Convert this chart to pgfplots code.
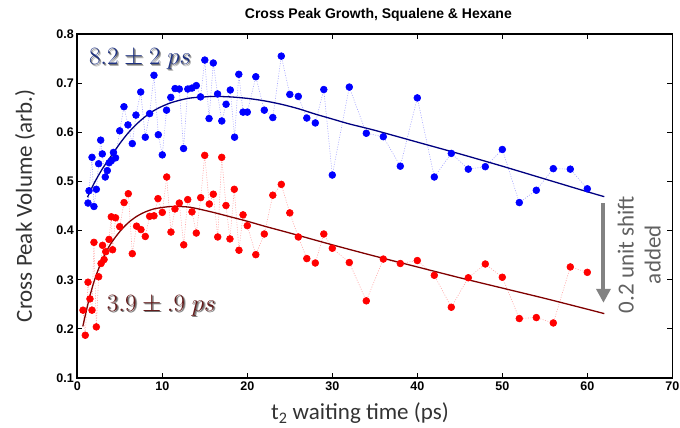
\documentclass[border=0pt]{standalone}
\usepackage[no-math]{fontspec}
\usepackage{pgfplots}
\pgfplotsset{compat=1.18}
\usetikzlibrary{arrows.meta}
\newfontfamily\helv{Liberation Sans}
\newfontfamily\gill{Carlito}
\definecolor{navyfit}{rgb}{0,0,0.5}
\definecolor{redfit}{rgb}{0.5,0,0}
\definecolor{bluelab}{RGB}{30,50,130}
\definecolor{redlab}{RGB}{100,28,28}
\definecolor{bluedot}{rgb}{0.65,0.65,1}
\definecolor{reddot}{rgb}{1,0.65,0.65}
\definecolor{arrowgray}{RGB}{130,130,130}
\newcommand{\shadowed}[1]{\makebox[0pt][l]{\hspace{1.8pt}\raisebox{-1.8pt}{\color{black!30}#1}}\makebox[0pt][l]{\hspace{1pt}\raisebox{-1pt}{\color{black!55}#1}}#1}

\pgfplotstableread{
x y
1.26 0.456
1.38 0.481
1.73 0.549
1.96 0.449
2.24 0.484
2.51 0.536
2.75 0.584
2.94 0.556
3.29 0.509
3.53 0.522
3.75 0.538
4.0 0.542
4.25 0.559
4.5 0.548
4.99 0.603
5.49 0.652
5.96 0.615
6.47 0.577
6.9 0.635
7.46 0.682
8.0 0.590
8.51 0.638
9.02 0.716
9.53 0.595
10.0 0.554
10.5 0.645
11.0 0.671
11.5 0.689
12.0 0.688
12.5 0.567
13.0 0.688
13.5 0.690
14.0 0.695
14.5 0.672
15.0 0.747
15.5 0.628
16.0 0.741
16.5 0.678
17.0 0.623
17.5 0.657
18.0 0.686
18.5 0.590
19.0 0.718
19.5 0.641
20.0 0.641
21 0.713
22 0.645
23 0.630
24 0.755
25 0.677
26 0.673
27 0.629
28 0.619
29 0.687
30 0.513
32 0.692
34 0.598
36 0.591
38 0.531
40 0.670
42 0.509
44 0.557
46 0.525
48 0.530
50 0.565
52 0.457
54 0.482
56 0.526
58 0.525
60 0.485
}\bluedata

\pgfplotstableread{
x y
0.67 0.238
0.94 0.187
1.26 0.295
1.49 0.261
1.73 0.238
1.96 0.376
2.24 0.204
2.51 0.306
2.8 0.333
2.97 0.370
3.15 0.341
3.35 0.357
3.73 0.382
4.0 0.428
4.15 0.361
4.5 0.426
4.99 0.408
5.5 0.457
6.0 0.475
6.47 0.353
6.97 0.409
7.49 0.402
8.0 0.388
8.51 0.429
9.02 0.430
9.49 0.465
10.0 0.437
10.52 0.509
11.02 0.397
11.49 0.444
12.0 0.456
12.52 0.371
12.99 0.463
13.49 0.438
14.0 0.395
14.52 0.467
14.99 0.553
15.53 0.454
16.0 0.474
16.52 0.387
16.99 0.549
17.49 0.451
17.96 0.383
18.47 0.484
19.02 0.360
19.5 0.432
20.0 0.410
21 0.351
22 0.393
23 0.472
24 0.494
25 0.436
26 0.387
27 0.343
28 0.334
29 0.393
30 0.364
32 0.335
34 0.257
36 0.342
38 0.333
40 0.339
42 0.309
44 0.244
46 0.304
48 0.332
50 0.305
52 0.221
54 0.223
56 0.212
58 0.326
60 0.315
}\reddata

\pgfplotstableread{
x y
1.2 0.468
2 0.497
3 0.527
4 0.552
5 0.577
6 0.599
7 0.617
8 0.632
9 0.644
10 0.653
11 0.660
12 0.665
13 0.669
14 0.671
15 0.672
16 0.673
18 0.672
20 0.669
22 0.664
24 0.657
26 0.648
28 0.637
30 0.627
32 0.617
35 0.604
40 0.580
45 0.556
50 0.531
55 0.505
60 0.479
62 0.469
}\bluefit

\pgfplotstableread{
x y
0.65 0.205
1 0.232
1.5 0.268
2 0.298
2.5 0.322
3 0.343
3.5 0.360
4 0.375
5 0.398
6 0.416
7 0.429
8 0.438
9 0.444
10 0.447
11 0.449
12 0.449
13 0.448
14 0.445
16 0.437
18 0.428
20 0.419
22 0.409
25 0.395
30 0.371
35 0.348
40 0.326
45 0.304
50 0.283
55 0.262
60 0.240
62 0.231
}\redfit

\begin{document}
\begin{tikzpicture}
\begin{axis}[name=ax, scale only axis, width=595pt, height=344pt,
  xmin=0, xmax=70, ymin=0.1, ymax=0.8,
  xtick={0,10,20,30,40,50,60,70},
  ytick={0.1,0.2,0.3,0.4,0.5,0.6,0.7,0.8},
  tick align=inside, tick pos=both, ticklabel pos=left,
  major tick length=5pt,
  axis line style={line width=1.6pt},
  every tick/.style={black, line width=1pt},
  /pgf/number format/assume math mode=true,
  ticklabel style={font=\helv\bfseries\fontsize{12.5}{12.5}\selectfont},
  yticklabel style={/pgf/number format/.cd, fixed, precision=1, fixed zerofill},
  xlabel={t\textsubscript{2} waiting time (ps)},
  ylabel={Cross Peak Volume (arb.)},
  label style={font=\gill\fontsize{23}{27}\selectfont, text=black!80},
  xlabel style={at={(axis description cs:0.475,-0.102)}, anchor=center},
  ylabel style={at={(axis description cs:-0.088,0.5)}, anchor=center},
  title={Cross Peak Growth, Squalene \& Hexane},
  title style={at={(axis description cs:0.506,1.029)}, anchor=base, font=\helv\bfseries\fontsize{14}{14}\selectfont},
  clip=false,
]
\addplot[color=bluedot, line width=0.6pt, dash pattern=on 1pt off 1.5pt, mark=*, mark size=3.4pt, mark options={solid, fill=blue, draw=blue}] table[x=x,y=y] {\bluedata};
\addplot[color=reddot, line width=0.6pt, dash pattern=on 1pt off 1.5pt, mark=*, mark size=3.4pt, mark options={solid, fill=red, draw=red}] table[x=x,y=y] {\reddata};
\addplot[navyfit, line width=1.3pt, smooth, no marks] table[x=x,y=y] {\bluefit};
\addplot[redfit, line width=1.3pt, smooth, no marks] table[x=x,y=y] {\redfit};

\node[font=\fontsize{24.88}{26}\selectfont, text=bluelab, anchor=base] at (axis cs:7.38,0.738) {\shadowed{$8.2 \pm 2\;ps$}};
\node[font=\fontsize{24.88}{26}\selectfont, text=redlab, anchor=base] at (axis cs:9.88,0.236) {\shadowed{$3.9 \pm .9\;ps$}};

\draw[arrowgray, line width=4pt, -{Triangle[width=14pt,length=14pt]}] (axis cs:61.9,0.456) -- (axis cs:61.9,0.253);
\node[rotate=90, align=center, font=\gill\fontsize{23}{27}\selectfont, text=black!62] at (axis cs:66.1,0.351) {0.2 unit shift\\added};
\end{axis}
\pgfresetboundingbox
\path[use as bounding box] ([shift={(-77.3pt,-49pt)}]ax.south west) rectangle ([shift={(7.7pt,34pt)}]ax.north east);
\end{tikzpicture}
\end{document}
